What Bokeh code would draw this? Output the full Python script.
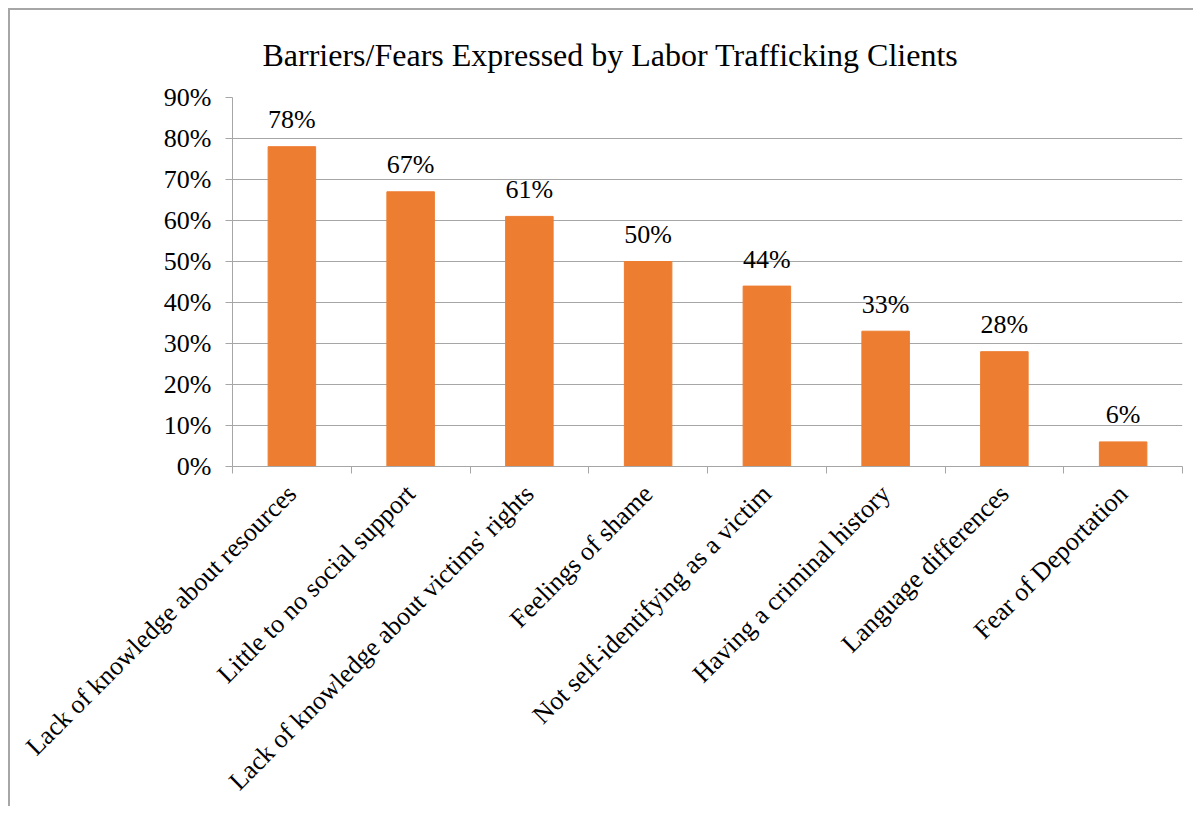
import math
from bokeh.plotting import figure
from bokeh.models import ColumnDataSource, FixedTicker, Title, PrintfTickFormatter
from bokeh.core.properties import value
from bokeh.embed import file_html
from bokeh.resources import INLINE

categories = [
    "Lack of knowledge about resources",
    "Little to no social support",
    "Lack of knowledge about victims' rights",
    "Feelings of shame",
    "Not self-identifying as a victim",
    "Having a criminal history",
    "Language differences",
    "Fear of Deportation",
]
values = [78, 67, 61, 50, 44, 33, 28, 6]
y_ticks = [0, 10, 20, 30, 40, 50, 60, 70, 80, 90]
title_text = "Barriers/Fears Expressed by Labor Trafficking Clients"

FONT = "Liberation Serif"
GRAY = "#a6a6a6"
ORANGE = "#ED7D31"

n = len(categories)
xs = [i + 0.5 for i in range(n)]
labels = [f"{v}%" for v in values]
src = ColumnDataSource(dict(x=xs, top=values, label=labels))

p = figure(width=1185, height=798, output_backend="svg", toolbar_location=None,
           x_range=(0, n), y_range=(0, 90),
           min_border_left=222, min_border_right=13,
           min_border_top=86, min_border_bottom=341)
p.styles = {"border-left": f"2px solid {GRAY}", "border-top": f"2px solid {GRAY}",
            "margin-left": "8px", "margin-top": "8px"}

p.vbar(x="x", top="top", width=0.4, bottom=0, source=src,
       fill_color=ORANGE, line_color=ORANGE)
p.text(x="x", y="top", text="label", source=src, text_align="center",
       text_baseline="alphabetic", y_offset=-27,
       text_font=value(FONT), text_font_size="26px", text_color="black")

p.title = Title(text=title_text, text_font=FONT, text_font_size="32px",
                text_font_style="normal", text_color="black",
                align="left", standoff=49, offset=30)

p.outline_line_color = None
p.background_fill_color = "white"
p.border_fill_color = "white"

p.xgrid.grid_line_color = None
p.ygrid.grid_line_color = GRAY
p.ygrid.ticker = FixedTicker(ticks=y_ticks)

xa = p.xaxis[0]
xa.ticker = FixedTicker(ticks=xs, minor_ticks=list(range(n + 1)))
xa.major_label_overrides = {x: c for x, c in zip(xs, categories)}
xa.major_tick_line_color = None
xa.minor_tick_line_color = GRAY
xa.minor_tick_in = 0
xa.minor_tick_out = 7
xa.axis_line_color = GRAY
xa.major_label_orientation = math.pi / 4
xa.major_label_text_font = FONT
xa.major_label_text_font_size = "26px"
xa.major_label_text_color = "black"
xa.major_label_standoff = 16

ya = p.yaxis[0]
ya.ticker = FixedTicker(ticks=y_ticks)
ya.formatter = PrintfTickFormatter(format="%d%%")
ya.major_tick_line_color = GRAY
ya.major_tick_in = 0
ya.major_tick_out = 7
ya.minor_tick_line_color = None
ya.axis_line_color = GRAY
ya.major_label_text_font = FONT
ya.major_label_text_font_size = "26px"
ya.major_label_text_color = "black"
ya.major_label_standoff = 14

open("out.html", "w").write(file_html(p, INLINE))
